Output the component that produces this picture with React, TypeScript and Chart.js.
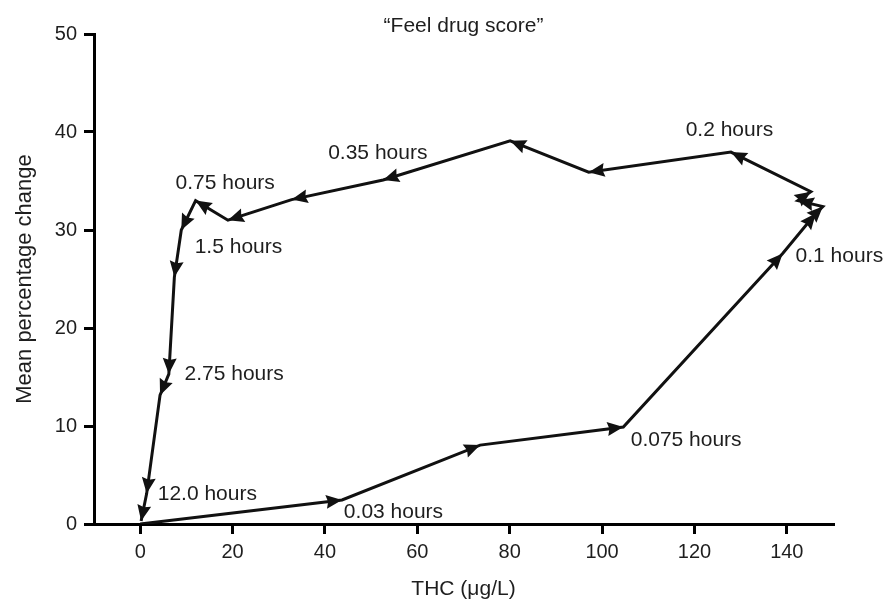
import React, { useEffect, useRef } from "react";
import { Chart, registerables } from "chart.js";

Chart.register(...registerables);

// THC concentration (µg/L) along the time course
const thc = [0, 43.7, 73.6, 104.6, 139.1, 146.3, 147.8, 142.4, 145.2, 127.9, 97.1, 80.1, 52.6, 32.8, 19.0, 12.0, 8.9, 7.4, 6.2, 4.3, 1.4, 0.2];
// Mean percentage change of "feel drug score"
const score = [0, 2.45, 8.05, 9.9, 27.6, 31.7, 32.4, 33.0, 33.9, 37.95, 35.9, 39.1, 35.1, 33.1, 31.0, 33.0, 30.0, 25.2, 15.3, 13.15, 3.1, 0.3];

// Time annotations (anchored in data units)
const annotText = ["0.75 hours", "1.5 hours", "0.35 hours", "0.2 hours", "0.1 hours", "2.75 hours", "12.0 hours", "0.03 hours", "0.075 hours"];
const annotX = [7.66, 11.8, 40.7, 118.1, 141.9, 9.6, 3.8, 44.1, 106.2];
const annotY = [34.8, 28.2, 37.8, 40.2, 27.3, 15.3, 3.06, 1.17, 8.6];

const xTicks = [0, 20, 40, 60, 80, 100, 120, 140];
const yTicks = [0, 10, 20, 30, 40, 50];

const chartTitle = "\u201CFeel drug score\u201D";

const FONT = "'Liberation Sans', Arial, Helvetica, sans-serif";
const TEXT = "#1e1e1e";

const arrowPlugin = {
  id: "arrowHeads",
  afterDatasetsDraw(chart: any) {
    const meta = chart.getDatasetMeta(0);
    const ctx = chart.ctx;
    const pts = meta.data;
    const L = 16;
    const W = 7;
    ctx.save();
    ctx.fillStyle = "#111111";
    for (let i = 1; i < pts.length; i++) {
      const p = pts[i];
      const q = pts[i - 1];
      const a = Math.atan2(p.y - q.y, p.x - q.x);
      const bx = p.x - Math.cos(a) * L;
      const by = p.y - Math.sin(a) * L;
      const nx = -Math.sin(a) * W;
      const ny = Math.cos(a) * W;
      ctx.beginPath();
      ctx.moveTo(p.x, p.y);
      ctx.lineTo(bx + nx, by + ny);
      ctx.lineTo(bx + Math.cos(a) * 2, by + Math.sin(a) * 2);
      ctx.lineTo(bx - nx, by - ny);
      ctx.closePath();
      ctx.fill();
    }
    ctx.restore();
  },
};

const labelPlugin = {
  id: "timeLabels",
  afterDatasetsDraw(chart: any) {
    const ctx = chart.ctx;
    const xs = chart.scales.x;
    const ys = chart.scales.y;
    const area = chart.chartArea;
    ctx.save();
    ctx.font = `21px ${FONT}`;
    ctx.fillStyle = TEXT;
    ctx.textAlign = "left";
    ctx.textBaseline = "middle";
    for (let i = 0; i < annotText.length; i++) {
      ctx.fillText(annotText[i], xs.getPixelForValue(annotX[i]), ys.getPixelForValue(annotY[i]));
    }
    // chart title, centred over the plot area
    ctx.textAlign = "center";
    ctx.fillText(chartTitle, (area.left + area.right) / 2, area.top - 8);
    ctx.restore();
  },
};

export default function App() {
  const ref = useRef<HTMLCanvasElement | null>(null);

  useEffect(() => {
    document.body.style.margin = "0";
    if (!ref.current) return;
    const points = thc.map((x, i) => ({ x, y: score[i] }));
    const chart = new Chart(ref.current, {
      type: "scatter",
      data: {
        datasets: [
          {
            data: points,
            showLine: true,
            borderColor: "#111111",
            borderWidth: 3,
            pointRadius: 0,
            pointHoverRadius: 0,
            tension: 0,
          },
        ],
      },
      options: {
        animation: false,
        responsive: false,
        devicePixelRatio: 1,
        layout: { padding: { left: 0, right: 52, top: 34, bottom: 0 } },
        plugins: {
          legend: { display: false },
          tooltip: { enabled: false },
          title: { display: false },
        },
        scales: {
          x: {
            type: "linear",
            min: -10,
            max: 150,
            afterBuildTicks: (s: any) => {
              s.ticks = xTicks.map((v) => ({ value: v }));
            },
            afterFit: (s: any) => {
              s.height = 76;
            },
            grid: {
              display: true,
              drawOnChartArea: false,
              drawTicks: true,
              tickLength: 10,
              color: "#000000",
              lineWidth: 3,
            },
            border: { display: true, color: "#000000", width: 3 },
            ticks: {
              color: TEXT,
              font: { family: FONT, size: 20 },
              padding: 6,
              maxRotation: 0,
            },
            title: {
              display: true,
              text: "THC (\u03BCg/L)",
              color: TEXT,
              font: { family: FONT, size: 21 },
              padding: { top: 0, bottom: -2 },
            },
          },
          y: {
            type: "linear",
            min: 0,
            max: 50,
            afterBuildTicks: (s: any) => {
              s.ticks = yTicks.map((v) => ({ value: v }));
            },
            afterFit: (s: any) => {
              s.width = 94;
            },
            grid: {
              display: true,
              drawOnChartArea: false,
              drawTicks: true,
              tickLength: 10,
              color: "#000000",
              lineWidth: 3,
            },
            border: { display: true, color: "#000000", width: 3 },
            ticks: {
              color: TEXT,
              font: { family: FONT, size: 20 },
              padding: 7,
            },
            title: {
              display: true,
              text: "Mean percentage change",
              color: TEXT,
              font: { family: FONT, size: 22 },
              padding: { top: 12, bottom: 0 },
            },
          },
        },
      },
      plugins: [arrowPlugin, labelPlugin],
    });
    return () => chart.destroy();
  }, []);

  return (
    <div style={{ width: 885, height: 600 }}>
      <canvas ref={ref} width={885} height={600} />
    </div>
  );
}
